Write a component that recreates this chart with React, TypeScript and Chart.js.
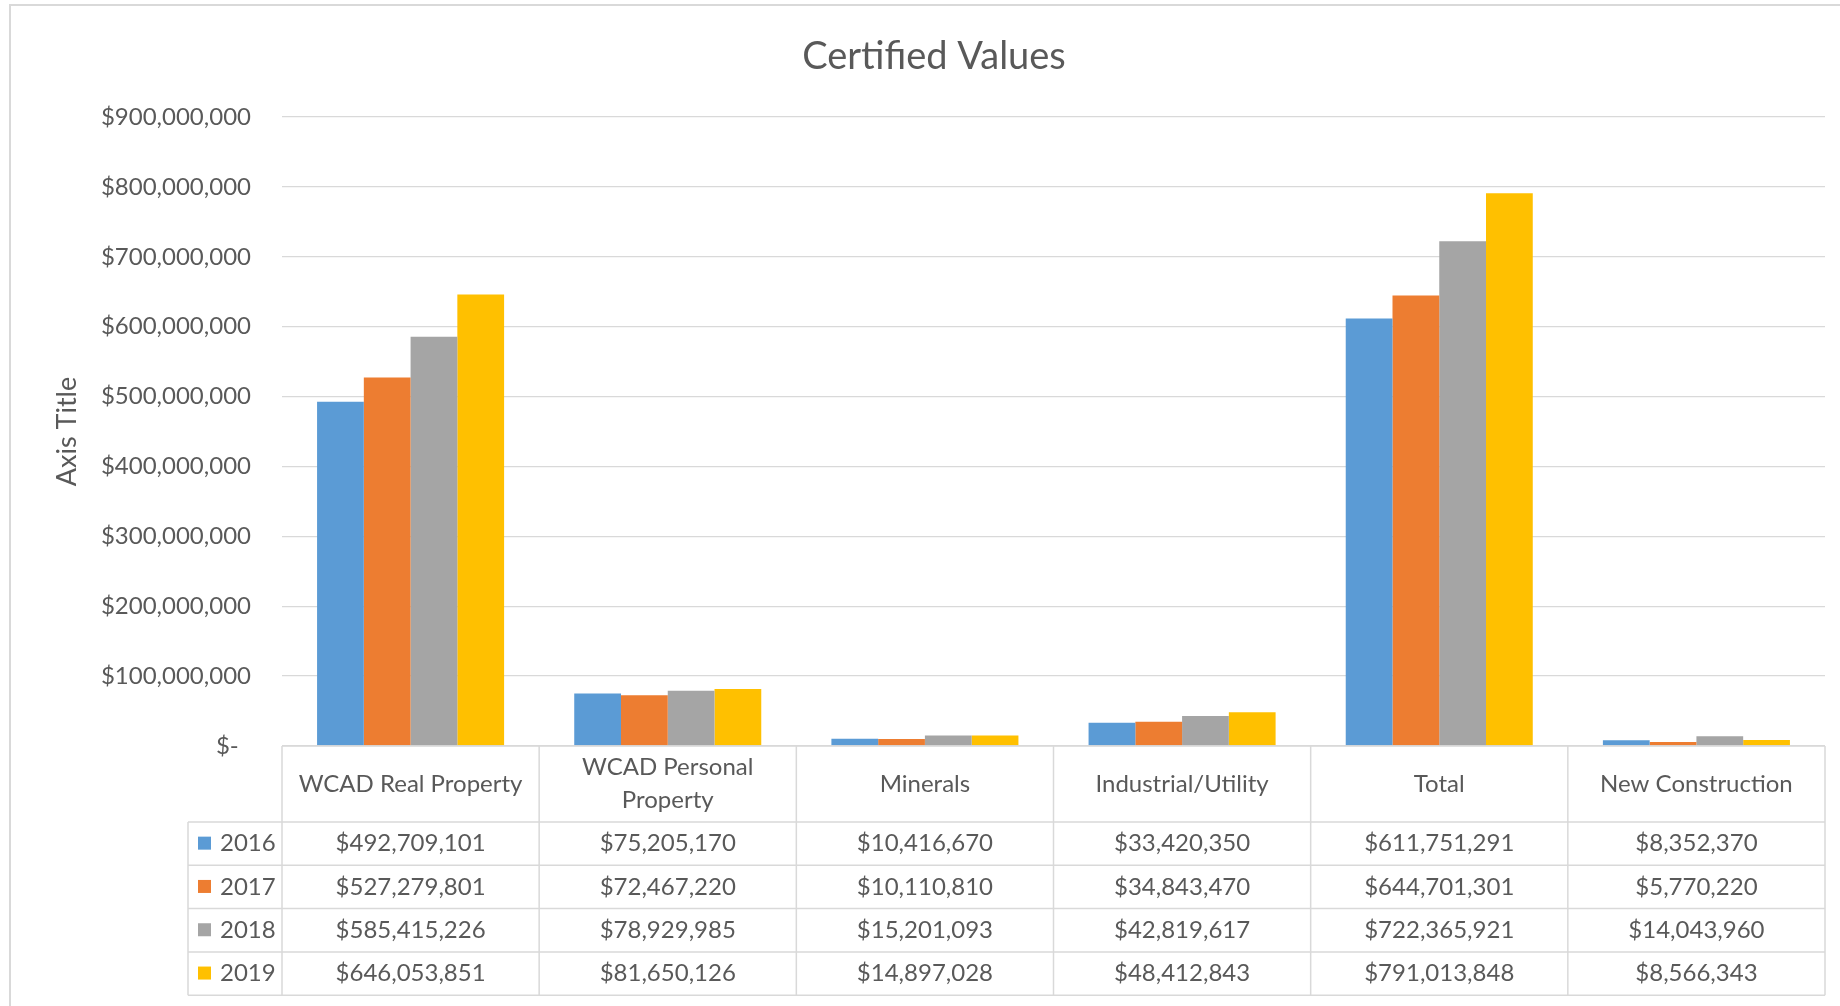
import React, { useEffect, useRef } from "react";
import { Chart, registerables } from "chart.js";

Chart.register(...registerables);

// ---------- data ----------
const chartTitle = "Certified Values";
const axisTitle = "Axis Title";
const categories: (string | string[])[] = [
  "WCAD Real Property",
  ["WCAD Personal", "Property"],
  "Minerals",
  "Industrial/Utility",
  "Total",
  "New Construction",
];
const seriesNames = ["2016", "2017", "2018", "2019"];
const values2016 = [492709101, 75205170, 10416670, 33420350, 611751291, 8352370];
const values2017 = [527279801, 72467220, 10110810, 34843470, 644701301, 5770220];
const values2018 = [585415226, 78929985, 15201093, 42819617, 722365921, 14043960];
const values2019 = [646053851, 81650126, 14897028, 48412843, 791013848, 8566343];
const seriesColors = ["#5B9BD5", "#ED7D31", "#A5A5A5", "#FFC000"];
const yMin = 0;
const yMax = 900000000;
const yStep = 100000000;
const zeroLabel = "$-  ";

// ---------- styles ----------
const TEXT = "#595959";
const LINE = "#d9d9d9";
const FONT = "Lato";

const fmt = (v: number) => "$" + v.toLocaleString("en-US");

const borderPlugin = {
  id: "outerBorder",
  beforeDraw(chart: any) {
    const { ctx } = chart;
    ctx.save();
    ctx.fillStyle = "#ffffff";
    ctx.fillRect(0, 0, chart.width, chart.height);
    ctx.strokeStyle = LINE;
    ctx.lineWidth = 2;
    ctx.strokeRect(10, 5, chart.width + 40, chart.height + 40);
    ctx.restore();
  },
};

const tablePlugin = {
  id: "dataTable",
  afterDraw(chart: any) {
    const { ctx, chartArea } = chart;
    const labels = chart.data.labels as (string | string[])[];
    const datasets = chart.data.datasets as any[];
    const n = labels.length;
    const left = chartArea.left;
    const right = chartArea.right;
    const colW = (right - left) / n;
    const top = chartArea.bottom;
    const headerH = 76;
    const rowH = 43.3;
    const legendLeft = left - 94;
    const bottom = top + headerH + rowH * datasets.length;

    ctx.save();
    ctx.strokeStyle = LINE;
    ctx.lineWidth = 1.5;
    ctx.beginPath();
    ctx.moveTo(left, top);
    ctx.lineTo(right, top);
    for (let r = 0; r <= datasets.length; r++) {
      const y = top + headerH + r * rowH;
      ctx.moveTo(legendLeft, y);
      ctx.lineTo(right, y);
    }
    for (let c = 0; c <= n; c++) {
      const x = left + c * colW;
      ctx.moveTo(x, top);
      ctx.lineTo(x, bottom);
    }
    ctx.moveTo(legendLeft, top + headerH);
    ctx.lineTo(legendLeft, bottom);
    ctx.stroke();

    ctx.fillStyle = TEXT;
    ctx.textAlign = "center";
    ctx.textBaseline = "middle";
    ctx.font = `24px ${FONT}`;
    labels.forEach((lab, c) => {
      const lines = Array.isArray(lab) ? lab : [lab];
      const cx = left + (c + 0.5) * colW;
      const cy = top + headerH / 2;
      const lh = 33;
      lines.forEach((t, i) => ctx.fillText(t, cx, cy + (i - (lines.length - 1) / 2) * lh));
    });

    datasets.forEach((ds, r) => {
      const cy = top + headerH + (r + 0.5) * rowH;
      ctx.fillStyle = TEXT;
      ctx.textAlign = "center";
      (ds.data as number[]).forEach((v, c) => ctx.fillText(fmt(v), left + (c + 0.5) * colW, cy));
      ctx.fillStyle = ds.backgroundColor;
      ctx.fillRect(legendLeft + 10, cy - 7, 13, 13);
      ctx.fillStyle = TEXT;
      ctx.textAlign = "left";
      ctx.fillText(ds.label, legendLeft + 32, cy);
    });
    ctx.restore();
  },
};

export default function App() {
  const canvasRef = useRef<HTMLCanvasElement | null>(null);

  useEffect(() => {
    if (!canvasRef.current) return;
    const seriesValues = [values2016, values2017, values2018, values2019];
    const chart = new Chart(canvasRef.current, {
      type: "bar",
      data: {
        labels: categories as any,
        datasets: seriesNames.map((name, i) => ({
          label: name,
          data: seriesValues[i],
          backgroundColor: seriesColors[i],
          borderWidth: 0,
          categoryPercentage: 4 / 5.5,
          barPercentage: 1,
        })),
      },
      options: {
        responsive: false,
        animation: false,
        layout: { padding: { left: 43, right: 15, top: 0, bottom: 260 } },
        plugins: {
          legend: { display: false },
          tooltip: { enabled: false },
          title: {
            display: true,
            text: chartTitle,
            color: TEXT,
            font: { family: FONT, size: 38, weight: "normal" },
            padding: { top: 34, bottom: 37.4 },
          },
        },
        scales: {
          x: {
            display: false,
          },
          y: {
            min: yMin,
            max: yMax,
            afterFit(scale: any) {
              scale.width = 239;
            },
            ticks: {
              stepSize: yStep,
              padding: 31,
              color: TEXT,
              font: { family: FONT, size: 24 },
              callback: (v: any) => (Number(v) === 0 ? zeroLabel : fmt(Number(v))),
            },
            grid: { color: LINE, lineWidth: 1.3, drawTicks: false },
            border: { display: false },
            title: {
              display: true,
              text: axisTitle,
              color: TEXT,
              font: { family: FONT, size: 27, weight: "normal" },
              padding: { top: 7.8, bottom: 0 },
            },
          },
        },
      },
      plugins: [borderPlugin, tablePlugin],
    });
    return () => chart.destroy();
  }, []);

  return (
    <div style={{ position: "absolute", left: 0, top: 0, width: 1840, height: 1006 }}>
      <canvas ref={canvasRef} width={1840} height={1006} style={{ display: "block" }} />
    </div>
  );
}
